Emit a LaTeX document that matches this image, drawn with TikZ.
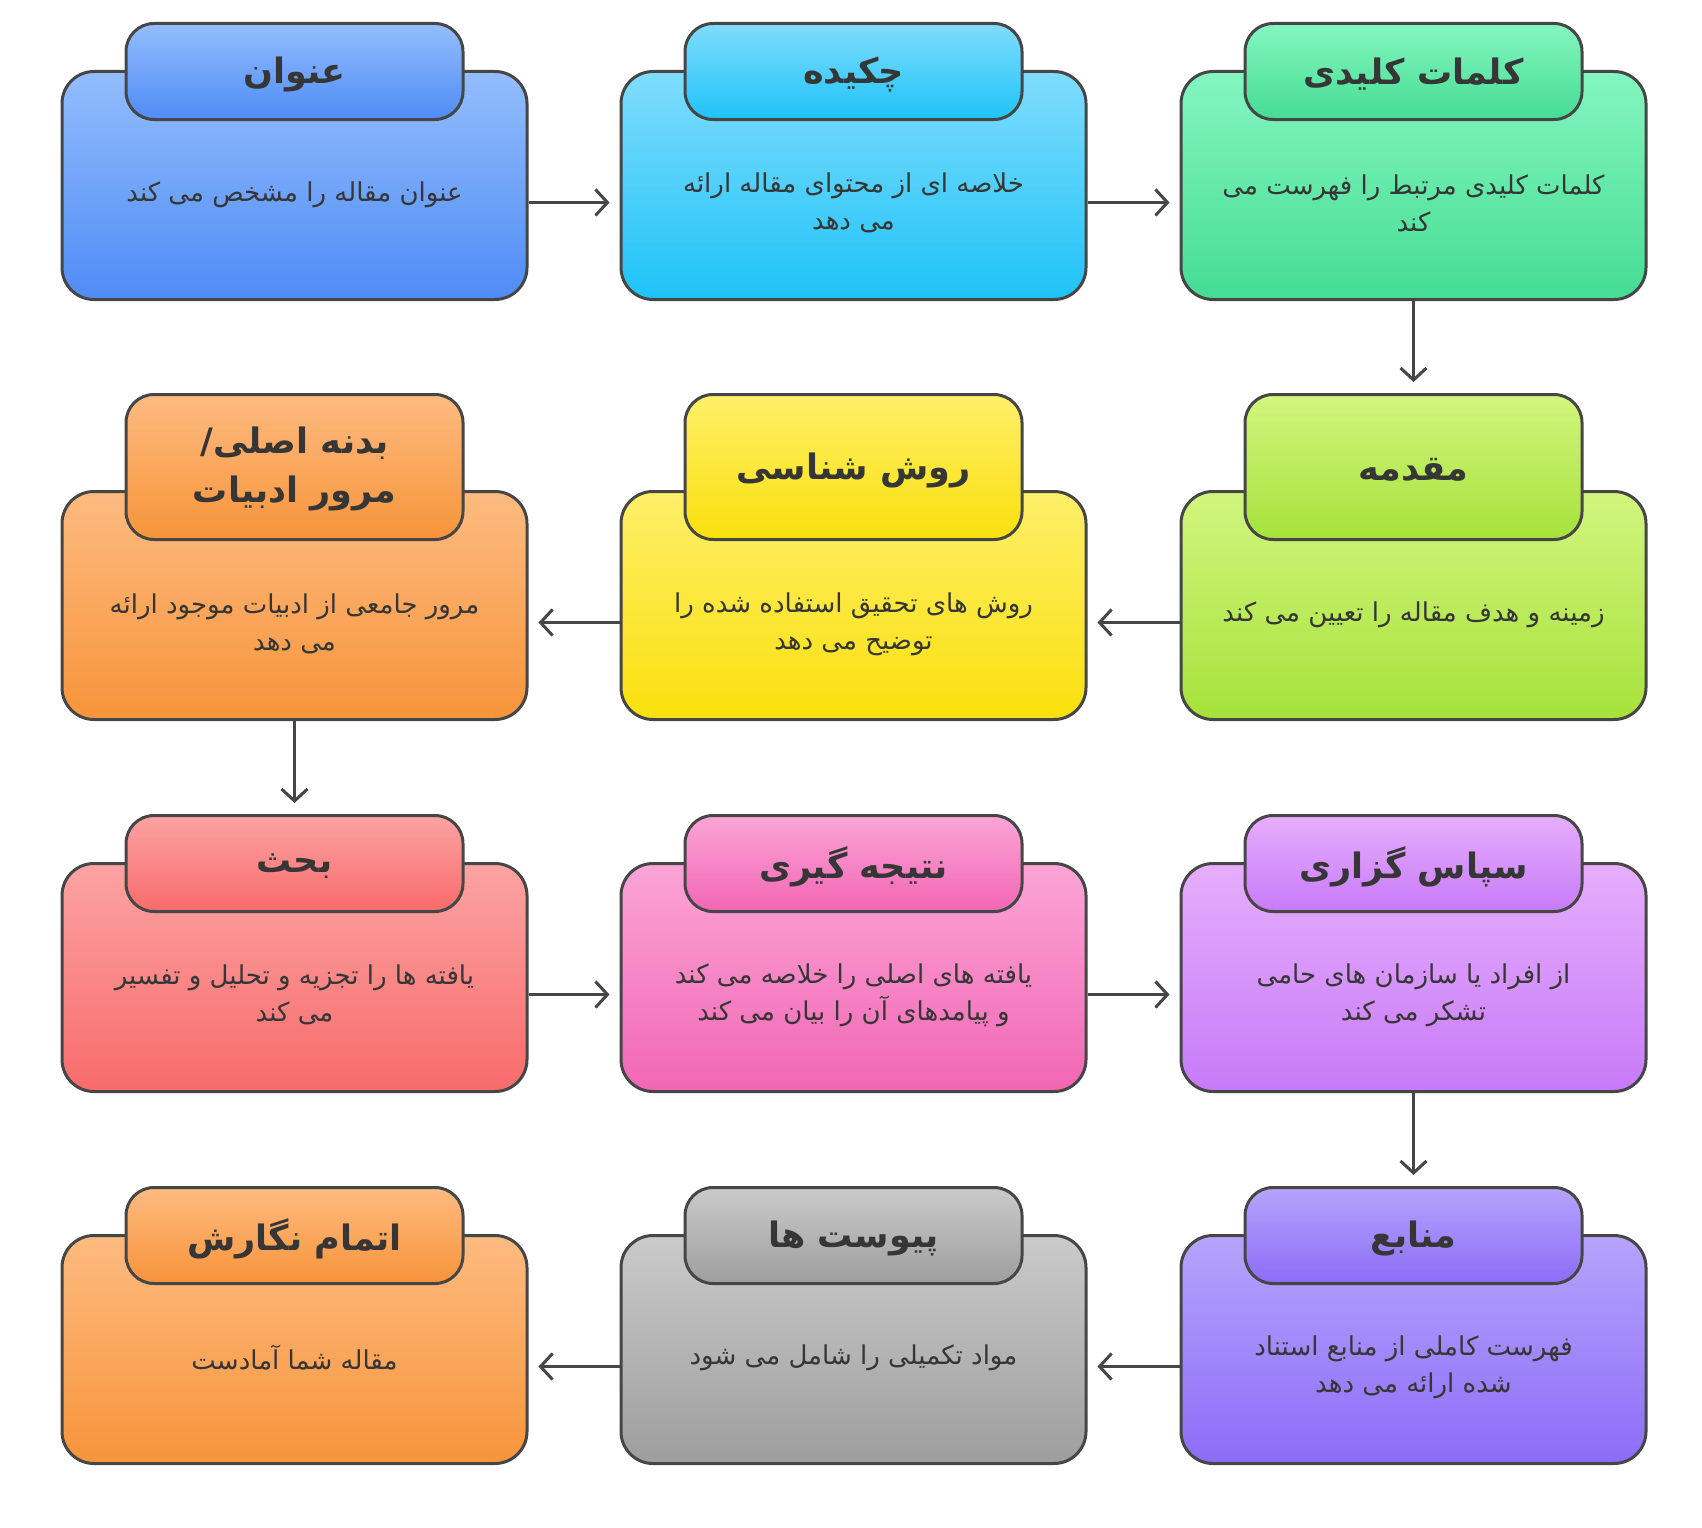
\documentclass[tikz,border=0pt]{standalone}
\usepackage{fontspec}
\usetikzlibrary{arrows.meta}
\TeXXeTstate=1
\newfontfamily\arabicfont[Script=Arabic]{DejaVu Sans}
\definecolor{edge}{HTML}{464646}
\definecolor{ink}{HTML}{363636}
\definecolor{blueT}{HTML}{93BDFD}\definecolor{blueB}{HTML}{4F8CF6}
\definecolor{cyanT}{HTML}{80DCFD}\definecolor{cyanB}{HTML}{1EC3F7}
\definecolor{greenT}{HTML}{84F6C0}\definecolor{greenB}{HTML}{45DC93}
\definecolor{limeT}{HTML}{D2F57F}\definecolor{limeB}{HTML}{A6E23A}
\definecolor{yelT}{HTML}{FEEF6A}\definecolor{yelB}{HTML}{FAE00C}
\definecolor{oraT}{HTML}{FDBB80}\definecolor{oraB}{HTML}{F7943A}
\definecolor{redT}{HTML}{FCA3A3}\definecolor{redB}{HTML}{F86B6B}
\definecolor{pinkT}{HTML}{FBA5D6}\definecolor{pinkB}{HTML}{F266B4}
\definecolor{purT}{HTML}{E6AEFC}\definecolor{purB}{HTML}{C77AF8}
\definecolor{vioT}{HTML}{B5A4FC}\definecolor{vioB}{HTML}{8C6CF8}
\definecolor{grayT}{HTML}{CACACA}\definecolor{grayB}{HTML}{9E9E9E}
\tikzset{
  boxst/.style={rectangle, rounded corners=32pt, draw=edge, line width=3pt,
    minimum width=465pt, minimum height=228pt, inner sep=0pt, anchor=north},
  tabst/.style={rectangle, rounded corners=28pt, draw=edge, line width=3pt,
    minimum width=337pt, inner sep=0pt, anchor=north, align=center},
  headst/.style={text=ink, align=center, inner sep=0pt,
    font=\arabicfont\bfseries\fontsize{35pt}{49pt}\selectfont},
  bodyst/.style={text=ink, align=center, inner sep=0pt,
    font=\arabicfont\fontsize{26pt}{37pt}\selectfont},
  arr/.style={draw=edge, line width=3pt, -{Straight Barb[length=12pt,width=26pt]}},
  g/.style={top color=#1T, bottom color=#1B}
}
\begin{document}
\begin{tikzpicture}[x=1pt,y=-1pt]
\useasboundingbox (0,0) rectangle (1702,1528);
% Row 1
\node[boxst,g=blue] (b1) at (294.5,70) {};
\node[tabst,g=blue,minimum height=96pt] (t1) at (294.5,22) {};
\node[headst] (h1) at ([yshift=-3pt]t1.center) {\beginR عنوان\endR};
\node[bodyst] (d1) at (294.5,195) {\beginR عنوان مقاله را مشخص می کند\endR};
\node[boxst,g=cyan] (b2) at (853.5,70) {};
\node[tabst,g=cyan,minimum height=96pt] (t2) at (853.5,22) {};
\node[headst] (h2) at ([yshift=-3pt]t2.center) {\beginR چکیده\endR};
\node[bodyst] (d2) at (853.5,203) {\beginR خلاصه ای از محتوای مقاله ارائه\endR\\\beginR می دهد\endR};
\node[boxst,g=green] (b3) at (1413.5,70) {};
\node[tabst,g=green,minimum height=96pt] (t3) at (1413.5,22) {};
\node[headst] (h3) at ([yshift=-3pt]t3.center) {\beginR کلمات کلیدی\endR};
\node[bodyst] (d3) at (1413.5,203) {\beginR کلمات کلیدی مرتبط را فهرست می\endR\\\beginR کند\endR};
% Row 2
\node[boxst,g=lime] (b4) at (1413.5,490) {};
\node[tabst,g=lime,minimum height=145pt] (t4) at (1413.5,393) {};
\node[headst] (h4) at ([yshift=-3pt]t4.center) {\beginR مقدمه\endR};
\node[bodyst] (d4) at (1413.5,615) {\beginR زمینه و هدف مقاله را تعیین می کند\endR};
\node[boxst,g=yel] (b5) at (853.5,490) {};
\node[tabst,g=yel,minimum height=145pt] (t5) at (853.5,393) {};
\node[headst] (h5) at ([yshift=-3pt]t5.center) {\beginR روش شناسی\endR};
\node[bodyst] (d5) at (853.5,624) {\beginR روش های تحقیق استفاده شده را\endR\\\beginR توضیح می دهد\endR};
\node[boxst,g=ora] (b6) at (294.5,490) {};
\node[tabst,g=ora,minimum height=145pt] (t6) at (294.5,393) {};
\node[headst] (h6) at ([yshift=-2pt]t6.center) {/\beginR بدنه اصلی\endR\\\beginR مرور ادبیات\endR};
\node[bodyst] (d6) at (294.5,624) {\beginR مرور جامعی از ادبیات موجود ارائه\endR\\\beginR می دهد\endR};
% Row 3
\node[boxst,g=red] (b7) at (294.5,862) {};
\node[tabst,g=red,minimum height=96pt] (t7) at (294.5,814) {};
\node[headst] (h7) at ([yshift=-3pt]t7.center) {\beginR بحث\endR};
\node[bodyst] (d7) at (294.5,995) {\beginR یافته ها را تجزیه و تحلیل و تفسیر\endR\\\beginR می کند\endR};
\node[boxst,g=pink] (b8) at (853.5,862) {};
\node[tabst,g=pink,minimum height=96pt] (t8) at (853.5,814) {};
\node[headst] (h8) at ([yshift=-3pt]t8.center) {\beginR نتیجه گیری\endR};
\node[bodyst] (d8) at (853.5,995) {\beginR یافته های اصلی را خلاصه می کند\endR\\\beginR و پیامدهای آن را بیان می کند\endR};
\node[boxst,g=pur] (b9) at (1413.5,862) {};
\node[tabst,g=pur,minimum height=96pt] (t9) at (1413.5,814) {};
\node[headst] (h9) at ([yshift=-3pt]t9.center) {\beginR سپاس گزاری\endR};
\node[bodyst] (d9) at (1413.5,995) {\beginR از افراد یا سازمان های حامی\endR\\\beginR تشکر می کند\endR};
% Row 4
\node[boxst,g=vio] (b10) at (1413.5,1234) {};
\node[tabst,g=vio,minimum height=96pt] (t10) at (1413.5,1186) {};
\node[headst] (h10) at ([yshift=-3pt]t10.center) {\beginR منابع\endR};
\node[bodyst] (d10) at (1413.5,1367) {\beginR فهرست کاملی از منابع استناد\endR\\\beginR شده ارائه می دهد\endR};
\node[boxst,g=gray] (b11) at (853.5,1234) {};
\node[tabst,g=gray,minimum height=96pt] (t11) at (853.5,1186) {};
\node[headst] (h11) at ([yshift=-3pt]t11.center) {\beginR پیوست ها\endR};
\node[bodyst] (d11) at (853.5,1358) {\beginR مواد تکمیلی را شامل می شود\endR};
\node[boxst,g=ora] (b12) at (294.5,1234) {};
\node[tabst,g=ora,minimum height=96pt] (t12) at (294.5,1186) {};
\node[headst] (h12) at ([yshift=-3pt]t12.center) {\beginR اتمام نگارش\endR};
\node[bodyst] (d12) at (294.5,1358) {\beginR مقاله شما آمادست\endR};
% Connectors
\draw[arr] ([yshift=-17pt]b1.east) -- ([yshift=-17pt,xshift=-10pt]b2.west);
\draw[arr] ([yshift=-17pt]b2.east) -- ([yshift=-17pt,xshift=-10pt]b3.west);
\draw[arr] (b3.south) -- ([yshift=11pt]t4.north);
\draw[arr] ([yshift=-17pt]b4.west) -- ([yshift=-17pt,xshift=10pt]b5.east);
\draw[arr] ([yshift=-17pt]b5.west) -- ([yshift=-17pt,xshift=10pt]b6.east);
\draw[arr] (b6.south) -- ([yshift=11pt]t7.north);
\draw[arr] ([yshift=-17pt]b7.east) -- ([yshift=-17pt,xshift=-10pt]b8.west);
\draw[arr] ([yshift=-17pt]b8.east) -- ([yshift=-17pt,xshift=-10pt]b9.west);
\draw[arr] (b9.south) -- ([yshift=11pt]t10.north);
\draw[arr] ([yshift=-17pt]b10.west) -- ([yshift=-17pt,xshift=10pt]b11.east);
\draw[arr] ([yshift=-17pt]b11.west) -- ([yshift=-17pt,xshift=10pt]b12.east);
\end{tikzpicture}
\end{document}
